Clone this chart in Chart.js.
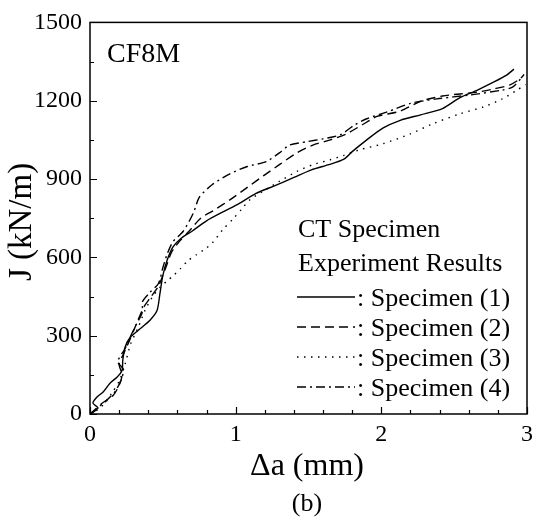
<!DOCTYPE html>
<html>
<head>
<meta charset="utf-8">
<script src="https://cdn.jsdelivr.net/npm/chart.js@4.4.1/dist/chart.umd.min.js"></script>
<style>
html,body{margin:0;padding:0;background:#fff;}
#wrap{width:539px;height:522px;}
</style>
</head>
<body>
<div id="wrap"><canvas id="jrChart" width="539" height="522"></canvas></div>
<script>
// J-R 곡선 데이터 (Δa mm, J kN/m)
const dA1 = [0, 0.014, 0.055, 0.02, 0.048, 0.09, 0.137, 0.185, 0.22, 0.225, 0.24, 0.275, 0.33, 0.41, 0.46, 0.48, 0.5, 0.53, 0.57, 0.63, 0.7, 0.8, 0.92, 1.02, 1.14, 1.27, 1.4, 1.52, 1.64, 1.74, 1.8, 1.9, 2.01, 2.13, 2.27, 2.42, 2.54, 2.66, 2.77, 2.86, 2.91];
const j1  = [0, 4, 23, 42, 65, 84, 118, 141, 167, 206, 255, 293, 320, 358, 396, 461, 530, 590, 640, 675, 700, 740, 776, 805, 845, 875, 906, 935, 955, 975, 1005, 1050, 1095, 1125, 1146, 1170, 1212, 1241, 1271, 1298, 1321];

const dA2 = [0, 0.03, 0.08, 0.16, 0.2, 0.22, 0.2, 0.23, 0.27, 0.3, 0.33, 0.37, 0.42, 0.47, 0.52, 0.56, 0.62, 0.68, 0.76, 0.85, 0.96, 1.08, 1.19, 1.3, 1.42, 1.53, 1.65, 1.76, 1.87, 1.97, 2.13, 2.27, 2.42, 2.54, 2.66, 2.77, 2.88, 2.95, 2.98];
const j2  = [0, 12, 40, 72, 110, 150, 190, 230, 280, 320, 360, 410, 450, 490, 560, 620, 665, 700, 750, 780, 820, 868, 912, 955, 1000, 1030, 1050, 1073, 1108, 1140, 1160, 1198, 1218, 1226, 1233, 1245, 1260, 1283, 1300];

const dA3 = [0, 0.05, 0.1, 0.15, 0.2, 0.24, 0.28, 0.33, 0.38, 0.43, 0.48, 0.53, 0.57, 0.62, 0.67, 0.73, 0.79, 0.84, 0.91, 0.98, 1.04, 1.1, 1.21, 1.3, 1.42, 1.53, 1.65, 1.74, 1.85, 2.01, 2.2, 2.35, 2.54, 2.7, 2.83, 2.93, 2.99];
const j3  = [0, 15, 40, 80, 125, 190, 270, 330, 400, 450, 485, 510, 529, 556, 586, 610, 632, 655, 705, 746, 784, 822, 860, 891, 929, 955, 974, 990, 1012, 1035, 1073, 1111, 1150, 1176, 1207, 1240, 1262];

const dA4 = [0, 0.04, 0.1, 0.17, 0.21, 0.23, 0.19, 0.24, 0.28, 0.32, 0.36, 0.36, 0.41, 0.47, 0.5, 0.53, 0.57, 0.64, 0.71, 0.75, 0.84, 0.96, 1.08, 1.21, 1.3, 1.37, 1.49, 1.6, 1.72, 1.81, 1.9, 2.04, 2.2, 2.38, 2.61, 2.83, 2.9, 2.96];
const j4  = [0, 20, 45, 85, 125, 170, 200, 250, 300, 345, 390, 430, 465, 500, 560, 613, 660, 700, 770, 830, 879, 920, 948, 967, 1000, 1030, 1043, 1054, 1070, 1105, 1131, 1157, 1190, 1207, 1222, 1241, 1252, 1285];

const seriesNames = ['Specimen (1)', 'Specimen (2)', 'Specimen (3)', 'Specimen (4)'];
const xTicks = [0, 1, 2, 3];
const yTicks = [0, 300, 600, 900, 1200, 1500];

const dashes = [[], [9, 5], [1.5, 5.5], [9, 4, 2, 4]];
const FONT = '"Liberation Serif", "Times New Roman", serif';

function toPts(xs, ys){
	return xs.map((x, i) => ({x: x, y: ys[i]}));
}

const allX = [dA1, dA2, dA3, dA4];
const allY = [j1, j2, j3, j4];

const datasets = allX.map((xs, i) => ({
	label: seriesNames[i],
	data: toPts(xs, allY[i]),
	borderColor: '#000',
	borderWidth: 1.4,
	borderDash: dashes[i],
	pointRadius: 0,
	tension: 0.25,
	fill: false
}));

// 프레임, 안쪽 눈금, 텍스트
const decoPlugin = {
	id: 'deco',
	afterDraw(chart){
		const ctx = chart.ctx;
		const a = chart.chartArea;
		const xs = chart.scales.x, ys = chart.scales.y;
		ctx.save();
		ctx.strokeStyle = '#000';
		ctx.lineWidth = 1.5;
		ctx.setLineDash([]);
		ctx.strokeRect(a.left, a.top, a.right - a.left, a.bottom - a.top);

		ctx.lineWidth = 1.2;
		ctx.beginPath();
		for(let v = 0; v <= 3.0001; v += 0.2){
			const px = Math.round(xs.getPixelForValue(v)) + 0.5;
			const major = Math.abs(v - Math.round(v)) < 1e-6;
			ctx.moveTo(px, a.bottom);
			ctx.lineTo(px, a.bottom - (major ? 7 : 4));
		}
		for(let v = 0; v <= 1500; v += 150){
			const py = Math.round(ys.getPixelForValue(v)) + 0.5;
			const major = v % 300 === 0;
			ctx.moveTo(a.left, py);
			ctx.lineTo(a.left + (major ? 7 : 4), py);
		}
		ctx.stroke();

		ctx.fillStyle = '#000';
		ctx.textBaseline = 'middle';
		ctx.textAlign = 'left';
		ctx.font = '28px ' + FONT;
		ctx.fillText('CF8M', 107, 55);

		ctx.font = '26px ' + FONT;
		ctx.fillText('CT Specimen', 298, 230);
		ctx.fillText('Experiment Results', 298, 264);
		for(let i = 0; i < 4; i++){
			const y = 297 + i * 30;
			ctx.beginPath();
			ctx.lineWidth = 1.4;
			ctx.setLineDash(dashes[i]);
			ctx.moveTo(297, y);
			ctx.lineTo(355, y);
			ctx.stroke();
			ctx.setLineDash([]);
			ctx.fillText(': ' + seriesNames[i], 357, y + 2);
		}

		ctx.textAlign = 'center';
		ctx.font = '32px ' + FONT;
		ctx.fillText('\u0394a (mm)', 307, 467);
		ctx.font = '26px ' + FONT;
		ctx.fillText('(b)', 307, 504);

		ctx.translate(22, 222);
		ctx.rotate(-Math.PI / 2);
		ctx.font = '33px ' + FONT;
		ctx.fillText('J (kN/m)', 0, 0);
		ctx.restore();
	}
};

document.addEventListener('DOMContentLoaded', () => {
	const ctx = document.getElementById('jrChart').getContext('2d');
	new Chart(ctx, {
		type: 'line',
		data: { datasets: datasets },
		options: {
			responsive: false,
			animation: false,
			layout: { padding: { top: 20, right: 12, left: 0, bottom: 0 } },
			plugins: {
				legend: { display: false },
				tooltip: { enabled: false }
			},
			scales: {
				x: {
					type: 'linear',
					min: 0, max: 3,
					afterFit: (s) => { s.height = 108; },
					afterBuildTicks: (s) => { s.ticks = xTicks.map(v => ({value: v})); },
					grid: { display: false, drawTicks: false },
					border: { display: false },
					ticks: {
						padding: 6,
						color: '#000',
						font: { family: FONT, size: 24 },
						maxRotation: 0,
						autoSkip: false,
						callback: (v) => String(v)
					}
				},
				y: {
					type: 'linear',
					min: 0, max: 1500,
					afterFit: (s) => { s.width = 90; },
					afterBuildTicks: (s) => { s.ticks = yTicks.map(v => ({value: v})); },
					grid: { display: false, drawTicks: false },
					border: { display: false },
					ticks: {
						padding: 8,
						color: '#000',
						font: { family: FONT, size: 24 },
						callback: (v) => String(v)
					}
				}
			}
		},
		plugins: [decoPlugin]
	});
});
</script>
</body>
</html>
